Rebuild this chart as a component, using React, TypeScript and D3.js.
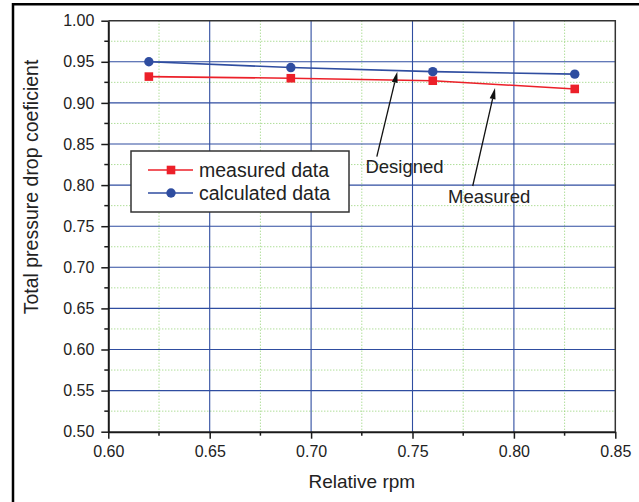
import { useEffect, useRef } from "react";
import * as d3 from "d3";

const rpm = [0.62, 0.69, 0.76, 0.83];
const measured = [0.932, 0.93, 0.927, 0.917];
const calculated = [0.95, 0.943, 0.938, 0.935];
const xTicks = [0.6, 0.65, 0.7, 0.75, 0.8, 0.85];
const yTicks = [0.5, 0.55, 0.6, 0.65, 0.7, 0.75, 0.8, 0.85, 0.9, 0.95, 1.0];
const xMinor = [0.625, 0.675, 0.725, 0.775, 0.825];
const yMinor = [0.525, 0.575, 0.625, 0.675, 0.725, 0.775, 0.825, 0.875, 0.925, 0.975];

// annotation arrows: [label, label x, label y, tail x, tail y, head x, head y]
const notes: [string, number, number, number, number, number, number][] = [
  ["Designed", 0.7268, 0.815, 0.7324, 0.8346, 0.7425, 0.938],
  ["Measured", 0.7675, 0.778, 0.7797, 0.7989, 0.7907, 0.918],
];

const RED = "#ec2029";
const BLUE = "#2f4da0";
const FONT = "'Liberation Sans', Arial, sans-serif";

const App = () => {
  const svgRef = useRef<SVGSVGElement>(null);

  useEffect(() => {
    const width = 639;
    const height = 502;
    const left = 108.3;
    const right = 615.3;
    const top = 20.7;
    const bottom = 431.7;

    const svg = d3.select(svgRef.current).attr("width", width).attr("height", height);
    svg.selectAll("*").remove();

    svg.append("rect").attr("width", width).attr("height", height).attr("fill", "#fff");

    // outer frame (left + top only)
    svg.append("path").attr("d", `M13,${height} V4.3 H${width}`)
      .attr("fill", "none").attr("stroke", "#000").attr("stroke-width", 2.5);

    const x = d3.scaleLinear().domain([0.6, 0.85]).range([left, right]);
    const y = d3.scaleLinear().domain([0.5, 1.0]).range([bottom, top]);

    const grid = svg.append("g");
    grid.selectAll(".vmin").data(xMinor).enter().append("line")
      .attr("x1", (d) => x(d)).attr("x2", (d) => x(d)).attr("y1", top).attr("y2", bottom)
      .attr("stroke", "#8ccf6c").attr("stroke-width", 1).attr("stroke-dasharray", "1,2");
    grid.selectAll(".hmin").data(yMinor).enter().append("line")
      .attr("y1", (d) => y(d)).attr("y2", (d) => y(d)).attr("x1", left).attr("x2", right)
      .attr("stroke", "#8ccf6c").attr("stroke-width", 1).attr("stroke-dasharray", "1,2");
    grid.selectAll(".vmaj").data(xTicks.slice(1, -1)).enter().append("line")
      .attr("x1", (d) => x(d)).attr("x2", (d) => x(d)).attr("y1", top).attr("y2", bottom)
      .attr("stroke", BLUE).attr("stroke-width", 1.1);
    grid.selectAll(".hmaj").data(yTicks.slice(1, -1)).enter().append("line")
      .attr("y1", (d) => y(d)).attr("y2", (d) => y(d)).attr("x1", left).attr("x2", right)
      .attr("stroke", BLUE).attr("stroke-width", 1.1);

    // top / right border
    svg.append("path").attr("d", `M${left},${top} H${right} V${bottom}`)
      .attr("fill", "none").attr("stroke", "#333").attr("stroke-width", 1.5);

    // axes
    const xAxis = svg.append("g").attr("transform", `translate(0,${bottom})`)
      .call(d3.axisBottom(x).tickValues(xTicks).tickFormat(d3.format(".2f")).tickSize(7).tickSizeOuter(0));
    const yAxis = svg.append("g").attr("transform", `translate(${left},0)`)
      .call(d3.axisLeft(y).tickValues(yTicks).tickFormat(d3.format(".2f")).tickSize(7).tickSizeOuter(0));
    [xAxis, yAxis].forEach((a) => {
      a.selectAll("path").attr("stroke", "#1a1a1a").attr("stroke-width", 2);
      a.selectAll("line").attr("stroke", "#1a1a1a").attr("stroke-width", 1.5);
      a.selectAll("text").attr("font-family", FONT).attr("font-size", 16).attr("fill", "#222");
    });
    xAxis.selectAll("text").attr("dy", null).attr("y", 25);
    yAxis.selectAll("text").attr("x", -14);
    svg.append("g").selectAll("line").data(xMinor).enter().append("line")
      .attr("x1", (d) => x(d)).attr("x2", (d) => x(d)).attr("y1", bottom).attr("y2", bottom + 4)
      .attr("stroke", "#1a1a1a").attr("stroke-width", 1.5);
    svg.append("g").selectAll("line").data(yMinor).enter().append("line")
      .attr("y1", (d) => y(d)).attr("y2", (d) => y(d)).attr("x1", left - 4).attr("x2", left)
      .attr("stroke", "#1a1a1a").attr("stroke-width", 1.5);

    // titles
    svg.append("text").attr("x", (left + right) / 2).attr("y", 488).attr("text-anchor", "middle")
      .attr("font-family", FONT).attr("font-size", 19).attr("fill", "#222").text("Relative rpm");
    svg.append("text").attr("transform", "translate(38,187) rotate(-90)").attr("text-anchor", "middle")
      .attr("font-family", FONT).attr("font-size", 19.5).attr("fill", "#222").text("Total pressure drop coeficient");

    // series
    const line = d3.line<number>().x((_, i) => x(rpm[i]));
    svg.append("path").datum(measured).attr("d", line.y((d) => y(d))(measured))
      .attr("fill", "none").attr("stroke", RED).attr("stroke-width", 1.6);
    svg.append("path").datum(calculated).attr("d", line.y((d) => y(d))(calculated))
      .attr("fill", "none").attr("stroke", BLUE).attr("stroke-width", 1.6);
    svg.append("g").selectAll("rect").data(measured).enter().append("rect")
      .attr("x", (_, i) => x(rpm[i]) - 4.3).attr("y", (d) => y(d) - 4.3)
      .attr("width", 8.6).attr("height", 8.6).attr("fill", RED);
    svg.append("g").selectAll("circle").data(calculated).enter().append("circle")
      .attr("cx", (_, i) => x(rpm[i])).attr("cy", (d) => y(d)).attr("r", 4.7).attr("fill", BLUE);

    // annotations
    notes.forEach(([label, lx, ly, tx, ty, hx, hy]) => {
      const x0 = x(tx), y0 = y(ty), x1 = x(hx), y1 = y(hy);
      const ang = Math.atan2(y1 - y0, x1 - x0);
      const L = 11, W = 3;
      const bx = x1 - L * Math.cos(ang), by = y1 - L * Math.sin(ang);
      const px = -Math.sin(ang) * W, py = Math.cos(ang) * W;
      svg.append("line").attr("x1", x0).attr("y1", y0).attr("x2", bx).attr("y2", by)
        .attr("stroke", "#111").attr("stroke-width", 1.3);
      svg.append("path")
        .attr("d", `M${x1},${y1} L${bx + px},${by + py} L${bx - px},${by - py} Z`)
        .attr("fill", "#111");
      svg.append("text").attr("x", x(lx)).attr("y", y(ly)).attr("font-family", FONT)
        .attr("font-size", 18.5).attr("fill", "#222").text(label);
    });

    // legend
    const lg = svg.append("g");
    lg.append("rect").attr("x", 131).attr("y", 151).attr("width", 218).attr("height", 61)
      .attr("fill", "#fff").attr("stroke", "#333").attr("stroke-width", 1.5);
    const items: [string, string, string][] = [
      ["measured data", RED, "square"],
      ["calculated data", BLUE, "circle"],
    ];
    items.forEach(([name, color, shape], i) => {
      const cy = 170 + i * 23;
      lg.append("line").attr("x1", 148).attr("x2", 193).attr("y1", cy).attr("y2", cy)
        .attr("stroke", color).attr("stroke-width", 1.6);
      if (shape === "square") {
        lg.append("rect").attr("x", 171 - 4.3).attr("y", cy - 4.3).attr("width", 8.6).attr("height", 8.6).attr("fill", color);
      } else {
        lg.append("circle").attr("cx", 171).attr("cy", cy).attr("r", 4.7).attr("fill", color);
      }
      lg.append("text").attr("x", 199).attr("y", cy).attr("dy", "0.35em").attr("font-family", FONT)
        .attr("font-size", 19.5).attr("fill", "#222").text(name);
    });
  }, []);

  return <svg ref={svgRef} style={{ position: "absolute", left: 0, top: 0, display: "block" }} />;
};

export default App;
